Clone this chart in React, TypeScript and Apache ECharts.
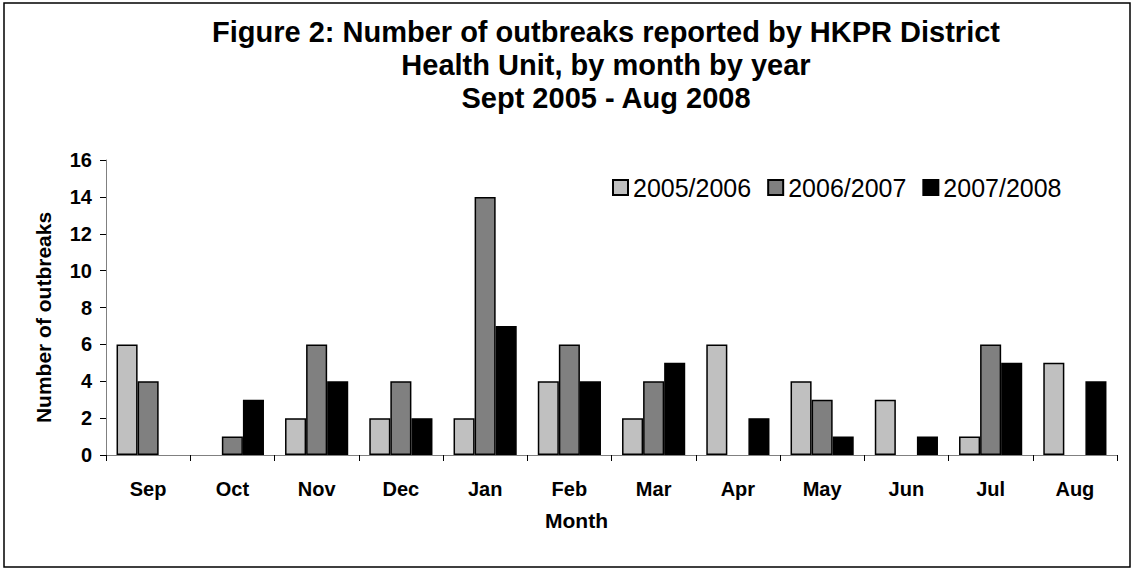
import React, { useEffect, useRef } from "react";
import * as echarts from "echarts";

const months = ["Sep", "Oct", "Nov", "Dec", "Jan", "Feb", "Mar", "Apr", "May", "Jun", "Jul", "Aug"];
const y2005_2006 = [6, 0, 2, 2, 2, 4, 2, 6, 4, 3, 1, 5];
const y2006_2007 = [4, 1, 6, 4, 14, 6, 4, 0, 3, 0, 6, 0];
const y2007_2008 = [0, 3, 4, 2, 7, 4, 5, 2, 1, 1, 5, 4];
const seriesNames = ["2005/2006", "2006/2007", "2007/2008"];
const seriesColors = ["#c0c0c0", "#808080", "#000000"];
const yTicks = [0, 2, 4, 6, 8, 10, 12, 14, 16];

export default function App() {
  const ref = useRef<HTMLDivElement>(null);
  useEffect(() => {
    if (!ref.current) return;
    const chart = echarts.init(ref.current, null, { renderer: "svg" });
    const font = "Liberation Sans, Arial, sans-serif";
    const data = [y2005_2006, y2006_2007, y2007_2008];
    chart.setOption({
      animation: false,
      backgroundColor: "#ffffff",
      textStyle: { fontFamily: font, color: "#000" },
      graphic: [
        {
          type: "rect",
          shape: { x: 4, y: 3, width: 1126, height: 564 },
          style: { fill: "none", stroke: "#000", lineWidth: 1.5 },
          silent: true,
        },
      ],
      title: {
        text: "Figure 2: Number of outbreaks reported by HKPR District\nHealth Unit, by month by year\nSept 2005 - Aug 2008",
        left: 601,
        top: 10,
        textAlign: "center",
        textStyle: {
          fontFamily: font,
          fontSize: 29,
          fontWeight: "bold",
          color: "#000",
          lineHeight: 33,
        },
      },
      legend: {
        data: seriesNames,
        left: 607,
        top: 170,
        itemWidth: 15,
        itemHeight: 15,
        itemGap: 16,
        icon: "rect",
        textStyle: { fontFamily: font, fontSize: 25, color: "#000" },
      },
      grid: { left: 106, right: 16, top: 160, bottom: 114 },
      xAxis: {
        type: "category",
        data: months,
        name: "Month",
        nameLocation: "middle",
        nameGap: 55,
        nameTextStyle: {
          fontFamily: font,
          fontSize: 21,
          fontWeight: "bold",
          color: "#000",
          padding: [0, 70, 0, 0],
        },
        axisLine: { lineStyle: { color: "#808080", width: 1 } },
        axisTick: { show: true, length: 6, lineStyle: { color: "#000" } },
        axisLabel: { fontFamily: font, fontSize: 20, fontWeight: "bold", color: "#000", margin: 24 },
        splitLine: { show: false },
      },
      yAxis: {
        type: "value",
        min: yTicks[0],
        max: yTicks[yTicks.length - 1],
        interval: 2,
        name: "Number of outbreaks",
        nameLocation: "middle",
        nameGap: 52,
        nameRotate: 90,
        nameTextStyle: {
          fontFamily: font,
          fontSize: 21,
          fontWeight: "bold",
          color: "#000",
          padding: [0, 20, 0, 0],
        },
        axisLine: { show: true, lineStyle: { color: "#808080", width: 1 } },
        axisTick: { show: true, length: 6, lineStyle: { color: "#000" } },
        axisLabel: { fontFamily: font, fontSize: 20, fontWeight: "bold", color: "#000", margin: 14 },
        splitLine: { show: false },
      },
      series: seriesNames.map((name, i) => ({
        name,
        type: "bar",
        data: data[i].map((v) => (v === 0 ? "-" : v)),
        barGap: "0%",
        barCategoryGap: "25%",
        itemStyle: { color: seriesColors[i], borderColor: "#000", borderWidth: 1.5 },
      })),
    });
    return () => chart.dispose();
  }, []);
  return (
    <div
      ref={ref}
      style={{ position: "fixed", left: 0, top: 0, width: 1133, height: 569 }}
    />
  );
}
